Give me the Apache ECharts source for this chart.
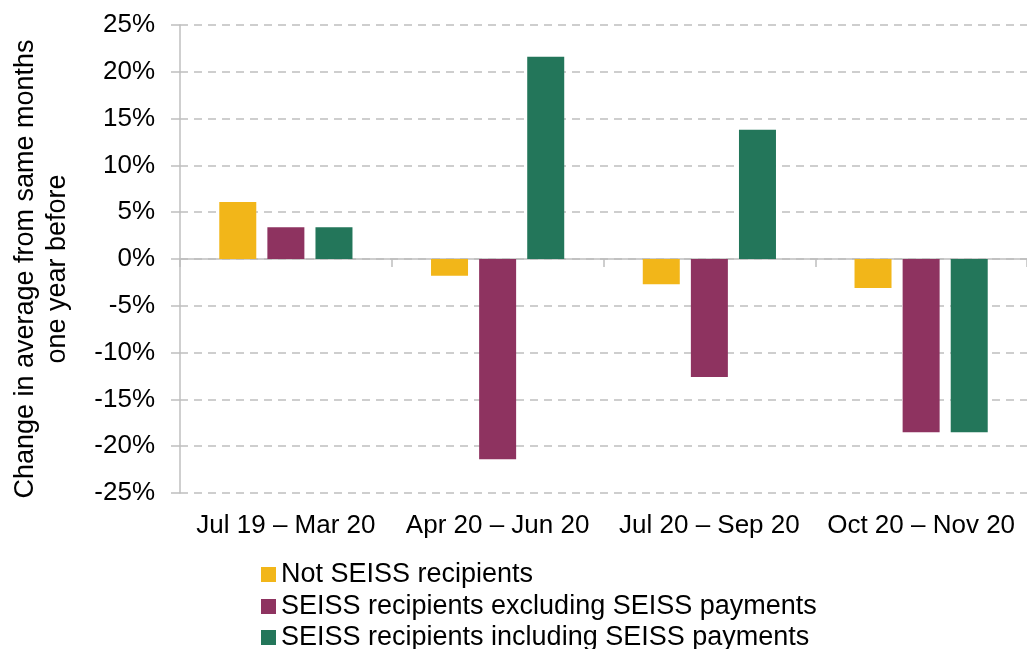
<!DOCTYPE html>
<html>
<head>
<meta charset="utf-8">
<script src="https://cdn.jsdelivr.net/npm/echarts@6/dist/echarts.min.js"></script>
<style>
  html, body { margin: 0; padding: 0; background: #fff; }
  #chart { width: 1027px; height: 649px; }
</style>
</head>
<body>
<div id="chart"></div>
<script>
const categories = ['Jul 19 \u2013 Mar 20', 'Apr 20 \u2013 Jun 20', 'Jul 20 \u2013 Sep 20', 'Oct 20 \u2013 Nov 20'];
const notSeiss = [6.1, -1.8, -2.7, -3.1];
const seissExcl = [3.4, -21.4, -12.6, -18.5];
const seissIncl = [3.4, 21.6, 13.8, -18.5];
const seriesNames = [
  'Not SEISS recipients',
  'SEISS recipients excluding SEISS payments',
  'SEISS recipients including SEISS payments'
];

const font = '"Liberation Sans", Arial, sans-serif';
const gray = '#bfbfbf';

const chart = echarts.init(document.getElementById('chart'));

function bar(name, data, color) {
  return {
    name: name,
    type: 'bar',
    data: data,
    barWidth: 37,
    barGap: '30%',
    itemStyle: { color: color },
    emphasis: { disabled: true }
  };
}

// one legend per row so nothing wraps at the bottom edge
function legendRow(name, top) {
  return {
    orient: 'vertical',
    left: 261,
    top: top,
    padding: 0,
    itemWidth: 15,
    itemHeight: 15,
    icon: 'rect',
    textStyle: { fontSize: 27, color: '#000', fontFamily: font },
    data: [name]
  };
}

chart.setOption({
  animation: false,
  textStyle: { fontFamily: font },
  grid: { left: 180, top: 25, width: 856, height: 468, containLabel: false },
  legend: [
    legendRow(seriesNames[0], 561),
    legendRow(seriesNames[1], 593),
    legendRow(seriesNames[2], 624)
  ],
  xAxis: [
    {
      type: 'category',
      data: categories,
      axisLine: { onZero: true, lineStyle: { color: gray, width: 1.5 } },
      axisTick: { show: true, length: 8, lineStyle: { color: gray, width: 1.5 } },
      axisLabel: { show: false }
    },
    {
      type: 'category',
      data: categories,
      position: 'bottom',
      axisLine: { show: false, onZero: false },
      axisTick: { show: false },
      axisLabel: { interval: 0, fontSize: 26, color: '#000', margin: 20, fontFamily: font }
    }
  ],
  yAxis: {
    type: 'value',
    min: -25,
    max: 25,
    interval: 5,
    name: 'Change in average from same months\none year before',
    nameLocation: 'middle',
    nameGap: 106,
    nameTextStyle: { fontSize: 27, color: '#000', lineHeight: 32, fontFamily: font, padding: [0, 20, 0, 0] },
    axisLine: { show: true, lineStyle: { color: gray, width: 1.5 } },
    axisTick: { show: true, length: 9, lineStyle: { color: gray, width: 1.5 } },
    axisLabel: { fontSize: 26, color: '#000', margin: 25, formatter: '{value}%', fontFamily: font },
    splitLine: { lineStyle: { color: gray, width: 1.5, type: [8, 6] } }
  },
  series: [
    bar(seriesNames[0], notSeiss, '#f2b619'),
    bar(seriesNames[1], seissExcl, '#8e3360'),
    bar(seriesNames[2], seissIncl, '#23765a')
  ]
});
</script>
</body>
</html>
